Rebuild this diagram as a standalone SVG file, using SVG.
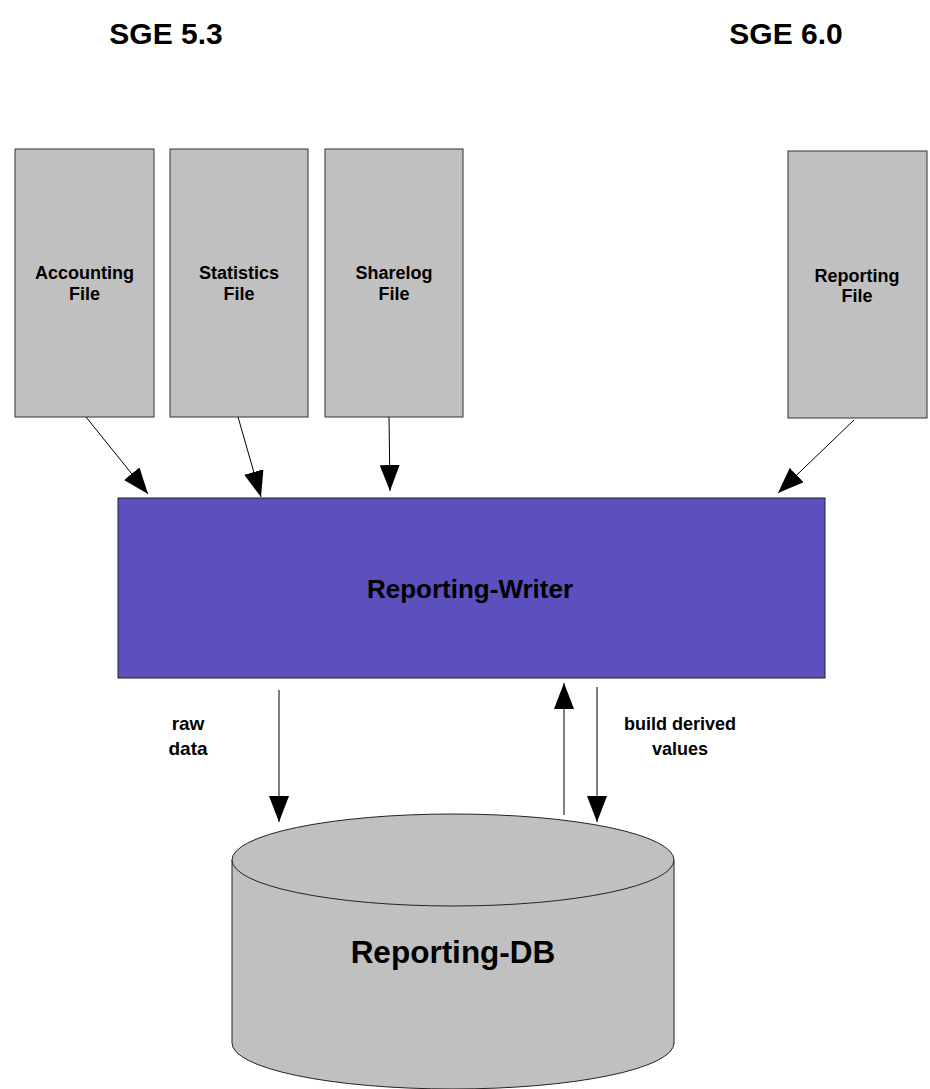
<svg xmlns="http://www.w3.org/2000/svg" width="930" height="1089" viewBox="0 0 930 1089">
<defs>
<style>
text{font-family:"Liberation Sans",Arial,sans-serif;font-weight:bold;fill:#000;text-anchor:middle}
.file{fill:#c0c0c0;stroke:#333;stroke-width:1}
.lbl{font-size:18px}
.title{font-size:30px}
.conn line{stroke:#000;stroke-width:1;marker-end:url(#ah)}
</style>
<marker id="ah" markerUnits="userSpaceOnUse" markerWidth="26" markerHeight="20" refX="26" refY="10" orient="auto">
<path d="M0,0 L26,10 L0,20 Z" fill="#000"/>
</marker>
</defs>
<rect width="930" height="1089" fill="#fff"/>
<g id="title-53"><text class="title" x="166" y="44">SGE 5.3</text></g>
<g id="title-60"><text class="title" x="786" y="44">SGE 6.0</text></g>
<g id="accounting-file">
<rect class="file" x="15" y="149" width="139" height="268"/>
<text class="lbl" x="84.5" y="279">Accounting</text>
<text class="lbl" x="84.5" y="300">File</text>
</g>
<g id="statistics-file">
<rect class="file" x="170" y="149" width="138" height="268"/>
<text class="lbl" x="239" y="279">Statistics</text>
<text class="lbl" x="239" y="300">File</text>
</g>
<g id="sharelog-file">
<rect class="file" x="325" y="149" width="138" height="268"/>
<text class="lbl" x="394" y="279">Sharelog</text>
<text class="lbl" x="394" y="300">File</text>
</g>
<g id="reporting-file">
<rect class="file" x="788" y="151" width="139" height="267"/>
<text class="lbl" x="857" y="282">Reporting</text>
<text class="lbl" x="857" y="302">File</text>
</g>
<g id="reporting-writer">
<rect x="118" y="498" width="707" height="180" fill="#5b50be" stroke="#222" stroke-width="1"/>
<text x="470" y="598" style="font-size:26px">Reporting-Writer</text>
</g>
<g id="reporting-db">
<path d="M232,860 L232,1043 A221,46 0 0 0 674,1043 L674,860 Z" fill="#c0c0c0" stroke="#222" stroke-width="1"/>
<ellipse cx="453" cy="860" rx="221" ry="46" fill="#c0c0c0" stroke="#222" stroke-width="1"/>
<text x="453" y="963" style="font-size:31.5px">Reporting-DB</text>
</g>
<g id="connectors" class="conn">
<line x1="86" y1="417" x2="148" y2="494"/>
<line x1="238" y1="417" x2="261" y2="497"/>
<line x1="389" y1="417" x2="390" y2="491"/>
<line x1="854" y1="420" x2="778" y2="493"/>
<line x1="279" y1="690" x2="279" y2="822"/>
<line x1="564" y1="815" x2="564" y2="683"/>
<line x1="597" y1="687" x2="597" y2="822"/>
</g>
<g id="edge-labels">
<text x="188" y="730" style="font-size:19px">raw</text>
<text x="188" y="755" style="font-size:19px">data</text>
<text x="680" y="730" style="font-size:18px">build derived</text>
<text x="680" y="755" style="font-size:18px">values</text>
</g>
</svg>
